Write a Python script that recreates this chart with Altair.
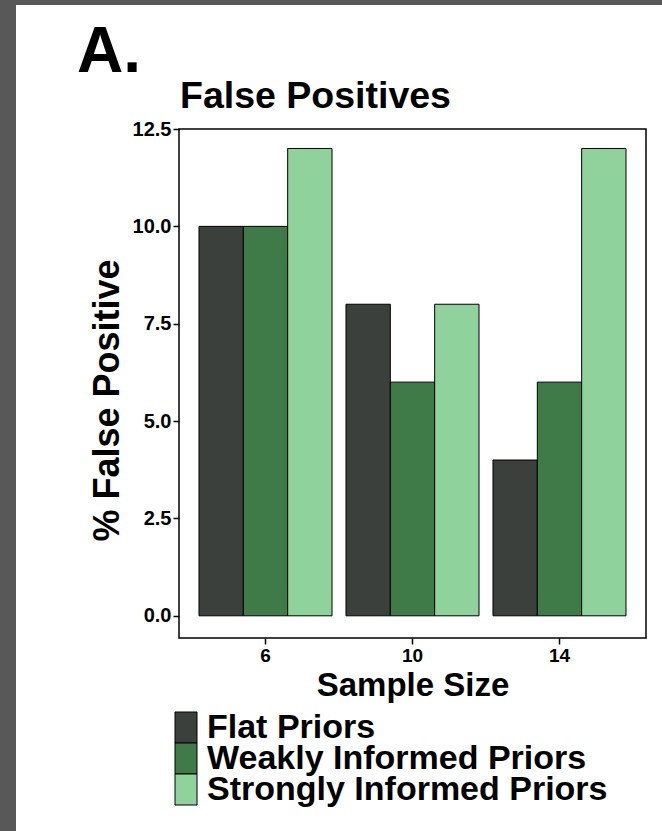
import altair as alt
import pandas as pd

# Percent false positives by sample size and prior type
sample_sizes = [6, 10, 14]
priors = ["Flat Priors", "Weakly Informed Priors", "Strongly Informed Priors"]
flat_vals = [10, 8, 4]
weak_vals = [10, 6, 6]
strong_vals = [12, 8, 12]
colors = ["#3c403d", "#3f7b49", "#8fd29b"]
y_ticks = [0, 2.5, 5, 7.5, 10, 12.5]

rows = []
for prior, vals in zip(priors, [flat_vals, weak_vals, strong_vals]):
    for n, v in zip(sample_sizes, vals):
        rows.append({"size": n, "prior": prior, "pct": v})
df = pd.DataFrame(rows)
legend_df = pd.DataFrame({"prior": priors})

FONT = "Liberation Sans"
W, H = 467, 509
PAD_L, PAD_T = 179, 129
TOTAL_W, TOTAL_H = 662, 831

color_scale = alt.Scale(domain=priors, range=colors)

bars = alt.Chart(df).mark_bar(stroke="black", strokeWidth=1).encode(
    x=alt.X(
        "size:O",
        sort=sample_sizes,
        scale=alt.Scale(paddingInner=0.095, paddingOuter=0.136),
        axis=alt.Axis(
            title="Sample Size",
            labelAngle=0,
            labelFontSize=19,
            labelFontWeight="bold",
            labelColor="black",
            labelPadding=2,
            tickSize=6,
            tickWidth=1.5,
            tickColor="black",
            domain=False,
            grid=False,
            titleFontSize=33,
            titleFontWeight="bold",
            titleColor="black",
            titleBaseline="alphabetic",
            titleY=57,
        ),
    ),
    xOffset=alt.XOffset(
        "prior:N", sort=priors, scale=alt.Scale(paddingInner=0, paddingOuter=0)
    ),
    y=alt.Y(
        "pct:Q",
        stack=None,
        scale=alt.Scale(domain=[-0.57, 12.5], nice=False, zero=False),
        axis=alt.Axis(
            title="% False Positive",
            values=y_ticks,
            format=".1f",
            labelFontSize=20,
            labelFontWeight="bold",
            labelColor="black",
            labelPadding=2,
            tickSize=6,
            tickWidth=1.5,
            tickColor="black",
            domain=False,
            grid=False,
            titleFontSize=36,
            titleFontWeight="bold",
            titleColor="black",
            titleBaseline="alphabetic",
            titleAlign="center",
            titleX=-61,
            titleY=271,
        ),
    ),
    y2=alt.datum(0),
    color=alt.Color("prior:N", sort=priors, scale=color_scale, legend=None),
)

# legend below the panel: stacked swatches with labels
legend_y = alt.Y(
    "prior:N",
    sort=priors,
    scale=alt.Scale(domain=priors, range=[583, 676], paddingInner=0, paddingOuter=0),
    axis=None,
)
legend_boxes = alt.Chart(legend_df).mark_rect(stroke="black", strokeWidth=1).encode(
    y=legend_y,
    x=alt.value(-4),
    x2=alt.value(18),
    color=alt.Color("prior:N", sort=priors, scale=color_scale, legend=None),
)
legend_labels = alt.Chart(legend_df).mark_text(
    font=FONT, fontSize=34, fontWeight="bold", color="black",
    align="left", baseline="middle",
).encode(y=legend_y, x=alt.value(28), text="prior:N")

one = pd.DataFrame({"k": [0]})

# grey page edges on the left and top
left_edge = alt.Chart(one).mark_rect(color="#585858").encode(
    x=alt.value(-PAD_L), x2=alt.value(-PAD_L + 16),
    y=alt.value(-PAD_T), y2=alt.value(TOTAL_H - PAD_T),
)
top_edge = alt.Chart(one).mark_rect(color="#585858").encode(
    x=alt.value(-PAD_L), x2=alt.value(TOTAL_W - PAD_L),
    y=alt.value(-PAD_T), y2=alt.value(-PAD_T + 5),
)

panel_label = alt.Chart(pd.DataFrame({"t": ["A."]})).mark_text(
    font=FONT, fontSize=64, fontWeight="bold", color="black",
    align="left", baseline="alphabetic",
).encode(text="t:N", x=alt.value(-102), y=alt.value(-57))

heading = alt.Chart(pd.DataFrame({"t": ["False Positives"]})).mark_text(
    font=FONT, fontSize=37.5, fontWeight="bold", color="black",
    align="left", baseline="alphabetic",
).encode(text="t:N", x=alt.value(1), y=alt.value(-21))

chart = alt.layer(
    left_edge, top_edge, bars, legend_boxes, legend_labels, panel_label, heading
).resolve_scale(y="independent").properties(
    width=W,
    height=H,
    autosize=alt.AutoSizeParams(type="none"),
    padding={"left": PAD_L, "top": PAD_T, "right": TOTAL_W - PAD_L - W,
             "bottom": TOTAL_H - PAD_T - H},
    background="white",
).configure(
    font=FONT,
    view=alt.ViewConfig(stroke="black", strokeWidth=1.5, fill="white"),
)

chart.save("out.html", embed_options={"renderer": "svg", "actions": False})
